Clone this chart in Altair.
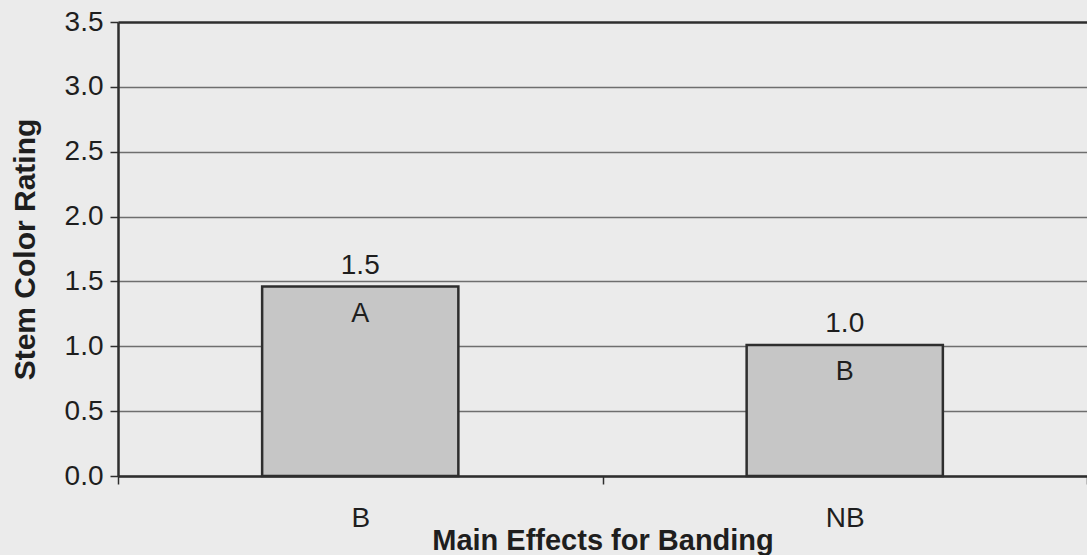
import altair as alt
import pandas as pd

# Main effects of banding on stem colour rating
treatments = ["B", "NB"]
ratings = [1.46, 1.01]
letter_groups = ["A", "B"]
y_ticks = [0.0, 0.5, 1.0, 1.5, 2.0, 2.5, 3.0, 3.5]

df = pd.DataFrame({"treatment": treatments, "rating": ratings, "group": letter_groups})

FONT = "Liberation Sans"
INK = "#1e1e1e"
LINE = "#2e2e2e"

x_enc = alt.X(
    "treatment:N",
    sort=treatments,
    scale=alt.Scale(paddingInner=0, paddingOuter=0),
    axis=alt.Axis(
        title="Main Effects for Banding",
        titleFont=FONT,
        titleFontSize=29,
        titleFontWeight="bold",
        titleColor=INK,
        titleBaseline="alphabetic",
        titleY=73,
        labelAngle=0,
        labelFont=FONT,
        labelFontSize=28,
        labelColor=INK,
        labelBaseline="alphabetic",
        labelPadding=42,
        tickBand="extent",
        tickSize=8,
        tickColor=LINE,
        tickWidth=1.5,
        domainColor=LINE,
        domainWidth=2.5,
        grid=False,
    ),
)

y_enc = alt.Y(
    "rating:Q",
    scale=alt.Scale(domain=[0, 3.5], nice=False, zero=True),
    axis=alt.Axis(
        title="Stem Color Rating",
        titleFont=FONT,
        titleFontSize=30,
        titleFontWeight="bold",
        titleColor=INK,
        titleAngle=270,
        titleAlign="center",
        titleBaseline="alphabetic",
        titleX=-84,
        titleY=227,
        values=y_ticks,
        format=".1f",
        labelFont=FONT,
        labelFontSize=28,
        labelColor=INK,
        labelPadding=7,
        tickSize=8,
        tickColor=LINE,
        tickWidth=1.5,
        domainColor=LINE,
        domainWidth=2.5,
        grid=True,
        gridColor={"condition": {"test": "datum.value >= 3.5", "value": LINE}, "value": "#6e6e6e"},
        gridWidth={"condition": {"test": "datum.value >= 3.5", "value": 2.5}, "value": 1.3},
    ),
)

base = alt.Chart(df).encode(x=x_enc, y=y_enc)

bars = base.mark_bar(
    width=alt.RelativeBandSize(0.405),
    fill="#c6c6c6",
    stroke=LINE,
    strokeWidth=2.5,
)

value_labels = base.mark_text(
    dy=-13, baseline="alphabetic", font=FONT, fontSize=28, color=INK
).encode(text=alt.Text("rating:Q", format=".1f"))

group_labels = base.mark_text(
    dy=35, baseline="alphabetic", font=FONT, fontSize=27, color=INK
).encode(text="group:N")

chart = (
    alt.layer(bars, value_labels, group_labels)
    .properties(
        width=969,
        height=454,
        padding={"left": 118, "top": 22, "right": 0, "bottom": 79},
        autosize=alt.AutoSizeParams(type="none"),
        background="#ebebeb",
    )
    .configure_view(stroke=None)
)

chart.save("out.html", embed_options={"renderer": "svg", "actions": False})
